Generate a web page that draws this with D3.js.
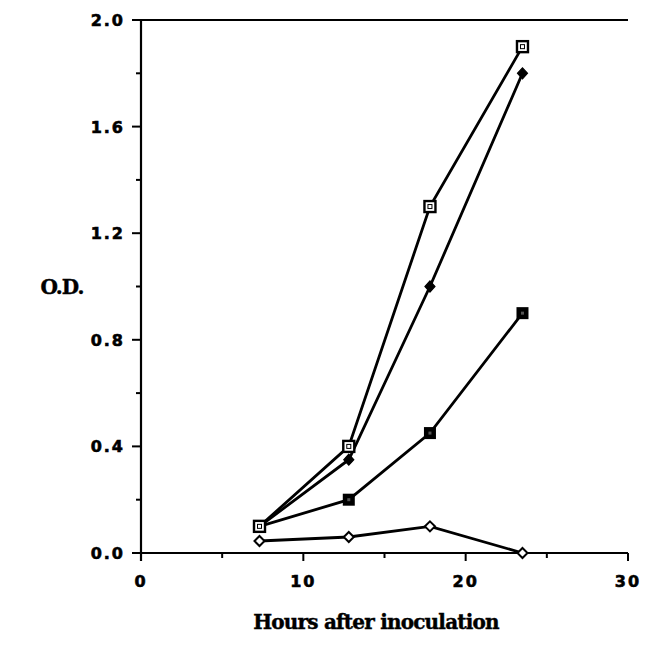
<!DOCTYPE html>
<html>
<head>
<meta charset="utf-8">
<script src="https://cdn.jsdelivr.net/npm/d3@7"></script>
<style>
  body { margin: 0; background: #fff; }
  .tick-label { font-family: "DejaVu Sans", sans-serif; font-weight: bold; font-size: 16px; stroke: #000; stroke-width: 0.6px; }
  .axis-title { font-family: "DejaVu Serif", serif; font-weight: bold; font-size: 20px; stroke: #000; stroke-width: 0.4px; }
</style>
</head>
<body>
<div id="root"></div>
<script>
// hours after inoculation (same sampling times for every series)
const hours = [7.3, 12.8, 17.8, 23.5]

// O.D. readings per series
const openSquare = [0.1, 0.4, 1.3, 1.9]
const filledDiamond = [0.1, 0.35, 1.0, 1.8]
const filledSquare = [0.1, 0.2, 0.45, 0.9]
const openDiamond = [0.045, 0.06, 0.1, 0.0]

const xTicks = [0, 10, 20, 30]
const xMinor = [5, 15, 25]
const yTicks = [0, 0.4, 0.8, 1.2, 1.6, 2.0]
const yMinor = [0.2, 0.6, 1.0, 1.4, 1.8]

const width = 650
const height = 661

const svg = d3.select('#root').append('svg')
    .attr('width', width)
    .attr('height', height)

const x = d3.scaleLinear().domain([0, 30]).range([141, 628])
const y = d3.scaleLinear().domain([0, 2]).range([553, 20])

const g = svg.append('g')

// axes lines
g.append('line')
    .attr('x1', x(0)).attr('x2', x(0))
    .attr('y1', y(0) + 8).attr('y2', y(2))
    .attr('stroke', '#000').attr('stroke-width', 2.2)
g.append('line')
    .attr('x1', x(0) - 9).attr('x2', x(30))
    .attr('y1', y(0)).attr('y2', y(0))
    .attr('stroke', '#000').attr('stroke-width', 2.2)
// top frame line
g.append('line')
    .attr('x1', x(0) - 9).attr('x2', x(30))
    .attr('y1', y(2)).attr('y2', y(2))
    .attr('stroke', '#000').attr('stroke-width', 2.2)

// y ticks
g.selectAll('.ytick')
    .data(yTicks)
    .enter().append('line')
    .attr('x1', x(0) - 9).attr('x2', x(0))
    .attr('y1', d => y(d)).attr('y2', d => y(d))
    .attr('stroke', '#000').attr('stroke-width', 2)
g.selectAll('.yminor')
    .data(yMinor)
    .enter().append('line')
    .attr('x1', x(0) - 5).attr('x2', x(0))
    .attr('y1', d => y(d)).attr('y2', d => y(d))
    .attr('stroke', '#000').attr('stroke-width', 2)
g.selectAll('.ylabel')
    .data(yTicks)
    .enter().append('text')
    .attr('class', 'tick-label')
    .attr('x', 125)
    .attr('y', d => y(d) + 6)
    .attr('text-anchor', 'end')
    .attr('letter-spacing', 2)
    .text(d => d.toFixed(1))

// x ticks
g.selectAll('.xtick')
    .data(xTicks)
    .enter().append('line')
    .attr('x1', d => x(d)).attr('x2', d => x(d))
    .attr('y1', y(0)).attr('y2', y(0) + 8)
    .attr('stroke', '#000').attr('stroke-width', 2)
g.selectAll('.xminor')
    .data(xMinor)
    .enter().append('line')
    .attr('x1', d => x(d)).attr('x2', d => x(d))
    .attr('y1', y(0)).attr('y2', y(0) + 5)
    .attr('stroke', '#000').attr('stroke-width', 2)
g.selectAll('.xlabel')
    .data(xTicks)
    .enter().append('text')
    .attr('class', 'tick-label')
    .attr('x', d => x(d))
    .attr('y', 587)
    .attr('text-anchor', 'middle')
    .attr('letter-spacing', 2)
    .text(d => d)

// axis titles
svg.append('text')
    .attr('class', 'axis-title')
    .attr('x', 62).attr('y', 294)
    .attr('text-anchor', 'middle')
    .attr('letter-spacing', -1)
    .text('O.D.')
svg.append('text')
    .attr('class', 'axis-title')
    .attr('x', 376).attr('y', 629)
    .attr('text-anchor', 'middle')
    .attr('letter-spacing', -0.8)
    .text('Hours after inoculation')

const series = [
    { name: 'openSquare', values: openSquare, marker: 'openSquare' },
    { name: 'filledDiamond', values: filledDiamond, marker: 'filledDiamond' },
    { name: 'filledSquare', values: filledSquare, marker: 'filledSquare' },
    { name: 'openDiamond', values: openDiamond, marker: 'openDiamond' }
]

const line = d3.line()
    .x((d, i) => x(hours[i]))
    .y(d => y(d))

svg.append('g').selectAll('path')
    .data(series)
    .enter().append('path')
    .attr('d', d => line(d.values))
    .attr('fill', 'none')
    .attr('stroke', '#000')
    .attr('stroke-width', 2.8)

// markers
const drawMarker = (sel, kind) => {
    if (kind === 'openSquare') {
        sel.append('rect').attr('x', -5.5).attr('y', -5.5).attr('width', 11).attr('height', 11)
            .attr('fill', '#fff').attr('stroke', '#000').attr('stroke-width', 2.4)
        sel.append('rect').attr('x', -2).attr('y', -2).attr('width', 4).attr('height', 4)
            .attr('fill', 'none').attr('stroke', '#000').attr('stroke-width', 1)
    } else if (kind === 'filledSquare') {
        sel.append('rect').attr('x', -6).attr('y', -6).attr('width', 12).attr('height', 12)
            .attr('fill', '#000')
        sel.append('rect').attr('x', -1.5).attr('y', -1.5).attr('width', 3).attr('height', 3)
            .attr('fill', '#555')
    } else if (kind === 'filledDiamond') {
        sel.append('path').attr('d', 'M0,-5.5L5,0L0,5.5L-5,0Z')
            .attr('fill', '#000').attr('stroke', '#000').attr('stroke-width', 1.2)
    } else {
        sel.append('path').attr('d', 'M0,-5L5,0L0,5L-5,0Z')
            .attr('fill', '#fff').attr('stroke', '#000').attr('stroke-width', 2)
    }
}

series.slice().reverse().forEach(s => {
    svg.append('g').selectAll('g')
        .data(s.values)
        .enter().append('g')
        .attr('transform', (d, i) => 'translate(' + x(hours[i]) + ',' + y(d) + ')')
        .each(function() { drawMarker(d3.select(this), s.marker) })
})
</script>
</body>
</html>
